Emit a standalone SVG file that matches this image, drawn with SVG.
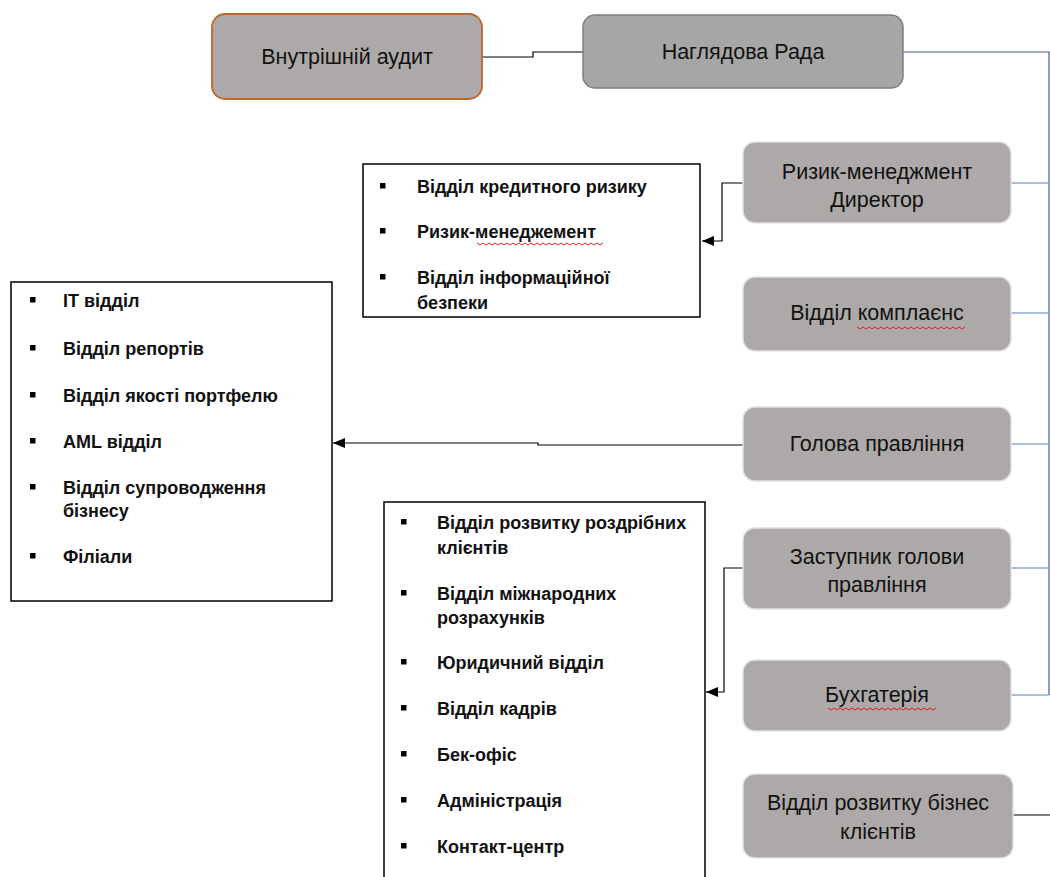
<svg xmlns="http://www.w3.org/2000/svg" width="1050" height="877" viewBox="0 0 1050 877">
<defs>
<style>
.node{fill:#ADA9A8;stroke:#E2E2E2;stroke-width:1.5}
.lbl{font-family:"Liberation Sans",Arial,sans-serif;font-size:21.5px;fill:#111;text-anchor:middle}
.list{fill:#fff;stroke:#000;stroke-width:1.5}
.item{font-family:"Liberation Sans",Arial,sans-serif;font-size:18px;font-weight:bold;fill:#111}
.bul{fill:#000}
.ln{fill:none;stroke:#000;stroke-width:1.2}
.bl{fill:none;stroke:#8EA9DB;stroke-width:1.3}
.sq{fill:none;stroke:#E02020;stroke-width:1}
</style>
<marker id="arr" markerWidth="12" markerHeight="10" refX="12" refY="5" orient="auto" markerUnits="userSpaceOnUse">
<path d="M0,0 L12,5 L0,10 Z" fill="#000"/>
</marker>
</defs>

<g id="connectors">
<path class="ln" d="M482,57 H533 V52 H583" stroke="#595959"/>
<path fill="none" stroke="#4A5F8C" stroke-width="1.2" d="M903,52 H1049 V695"/>
<path class="bl" d="M1011,183 H1049"/>
<path class="bl" d="M1011,313 H1049"/>
<path class="bl" d="M1011,444 H1049"/>
<path class="bl" d="M1011,568 H1049"/>
<path class="bl" d="M1011,695 H1049"/>
<path class="ln" stroke="#595959" d="M1013,815 H1050"/>
<path class="ln" d="M743,183 H722 V241 H702" marker-end="url(#arr)"/>
<path class="ln" d="M743,445 H538 V443 H333" marker-end="url(#arr)"/>
<path class="ln" d="M743,568 H724 V692 H706" marker-end="url(#arr)"/>
</g>

<g id="internal-audit">
<rect x="212" y="14" width="270" height="85" rx="13" fill="#ADA9A8" stroke="#C0652F" stroke-width="1.8"/>
<text class="lbl" x="347" y="64">Внутрішній аудит</text>
</g>

<g id="supervisory-board">
<rect x="583" y="15" width="320" height="73" rx="12" fill="#A6A6A6" stroke="#7F7F7F" stroke-width="1.5"/>
<text class="lbl" x="743" y="59">Наглядова Рада</text>
</g>

<g id="risk-director">
<rect class="node" x="743" y="142" width="268" height="81" rx="12"/>
<text class="lbl" x="877" y="179">Ризик-менеджмент</text>
<text class="lbl" x="877" y="207">Директор</text>
</g>

<g id="compliance">
<rect class="node" x="743" y="277" width="268" height="74" rx="12"/>
<text class="lbl" x="877" y="320">Відділ комплаєнс</text>
<path class="sq" d="M857,327 l3,2 l3,-2 l3,2 l3,-2 l3,2 l3,-2 l3,2 l3,-2 l3,2 l3,-2 l3,2 l3,-2 l3,2 l3,-2 l3,2 l3,-2 l3,2 l3,-2 l3,2 l3,-2 l3,2 l3,-2 l3,2 l3,-2 l3,2 l3,-2 l3,2 l3,-2 l3,2 l3,-2 l3,2 l3,-2 l3,2 l3,-2 l3,2 l3,-2"/>
</g>

<g id="chairman">
<rect class="node" x="743" y="407" width="268" height="74" rx="12"/>
<text class="lbl" x="877" y="451">Голова правління</text>
</g>

<g id="deputy">
<rect class="node" x="743" y="528" width="268" height="81" rx="12"/>
<text class="lbl" x="877" y="564">Заступник голови</text>
<text class="lbl" x="877" y="592">правління</text>
</g>

<g id="accounting">
<rect class="node" x="743" y="660" width="268" height="71" rx="12"/>
<text class="lbl" x="877" y="702">Бухгатерія</text>
<path class="sq" d="M828,708 l3,2 l3,-2 l3,2 l3,-2 l3,2 l3,-2 l3,2 l3,-2 l3,2 l3,-2 l3,2 l3,-2 l3,2 l3,-2 l3,2 l3,-2 l3,2 l3,-2 l3,2 l3,-2 l3,2 l3,-2 l3,2 l3,-2 l3,2 l3,-2 l3,2 l3,-2 l3,2 l3,-2 l3,2 l3,-2 l3,2 l3,-2 l3,2 l3,-2"/>
</g>

<g id="business-clients">
<rect class="node" x="743" y="774" width="270" height="84" rx="12"/>
<text class="lbl" x="878" y="810">Відділ розвитку бізнес</text>
<text class="lbl" x="878" y="839">клієнтів</text>
</g>

<g id="risk-list">
<rect class="list" x="363" y="164" width="337" height="153"/>
<rect class="bul" x="380" y="183" width="5.5" height="5.5"/>
<text class="item" x="417" y="193">Відділ кредитного ризику</text>
<rect class="bul" x="380" y="228" width="5.5" height="5.5"/>
<text class="item" x="417" y="238">Ризик-менеджемент</text>
<path class="sq" d="M477,243 l3,2 l3,-2 l3,2 l3,-2 l3,2 l3,-2 l3,2 l3,-2 l3,2 l3,-2 l3,2 l3,-2 l3,2 l3,-2 l3,2 l3,-2 l3,2 l3,-2 l3,2 l3,-2 l3,2 l3,-2 l3,2 l3,-2 l3,2 l3,-2 l3,2 l3,-2 l3,2 l3,-2 l3,2 l3,-2 l3,2 l3,-2 l3,2 l3,-2 l3,2 l3,-2 l3,2 l3,-2 l3,2 l3,-2"/>
<rect class="bul" x="380" y="274" width="5.5" height="5.5"/>
<text class="item" x="417" y="284">Відділ інформаційної</text>
<text class="item" x="417" y="309">безпеки</text>
</g>

<g id="chairman-list">
<rect class="list" x="11" y="282" width="321" height="319"/>
<rect class="bul" x="30" y="297" width="5.5" height="5.5"/>
<text class="item" x="63" y="307">IT відділ</text>
<rect class="bul" x="30" y="345" width="5.5" height="5.5"/>
<text class="item" x="63" y="355">Відділ репортів</text>
<rect class="bul" x="30" y="392" width="5.5" height="5.5"/>
<text class="item" x="63" y="402">Відділ якості портфелю</text>
<rect class="bul" x="30" y="438" width="5.5" height="5.5"/>
<text class="item" x="63" y="448">AML відділ</text>
<rect class="bul" x="30" y="484" width="5.5" height="5.5"/>
<text class="item" x="63" y="494">Відділ супроводження</text>
<text class="item" x="63" y="517">бізнесу</text>
<rect class="bul" x="30" y="553" width="5.5" height="5.5"/>
<text class="item" x="63" y="563">Філіали</text>
</g>

<g id="deputy-list">
<path class="list" d="M384,880 V502 H705 V880"/>
<rect class="bul" x="401" y="519" width="5.5" height="5.5"/>
<text class="item" x="437" y="529">Відділ розвитку роздрібних</text>
<text class="item" x="437" y="554">клієнтів</text>
<rect class="bul" x="401" y="590" width="5.5" height="5.5"/>
<text class="item" x="437" y="600">Відділ міжнародних</text>
<text class="item" x="437" y="624">розрахунків</text>
<rect class="bul" x="401" y="659" width="5.5" height="5.5"/>
<text class="item" x="437" y="669">Юридичний відділ</text>
<rect class="bul" x="401" y="705" width="5.5" height="5.5"/>
<text class="item" x="437" y="715">Відділ кадрів</text>
<rect class="bul" x="401" y="751" width="5.5" height="5.5"/>
<text class="item" x="437" y="761">Бек-офіс</text>
<rect class="bul" x="401" y="797" width="5.5" height="5.5"/>
<text class="item" x="437" y="807">Адміністрація</text>
<rect class="bul" x="401" y="843" width="5.5" height="5.5"/>
<text class="item" x="437" y="853">Контакт-центр</text>
</g>
</svg>
